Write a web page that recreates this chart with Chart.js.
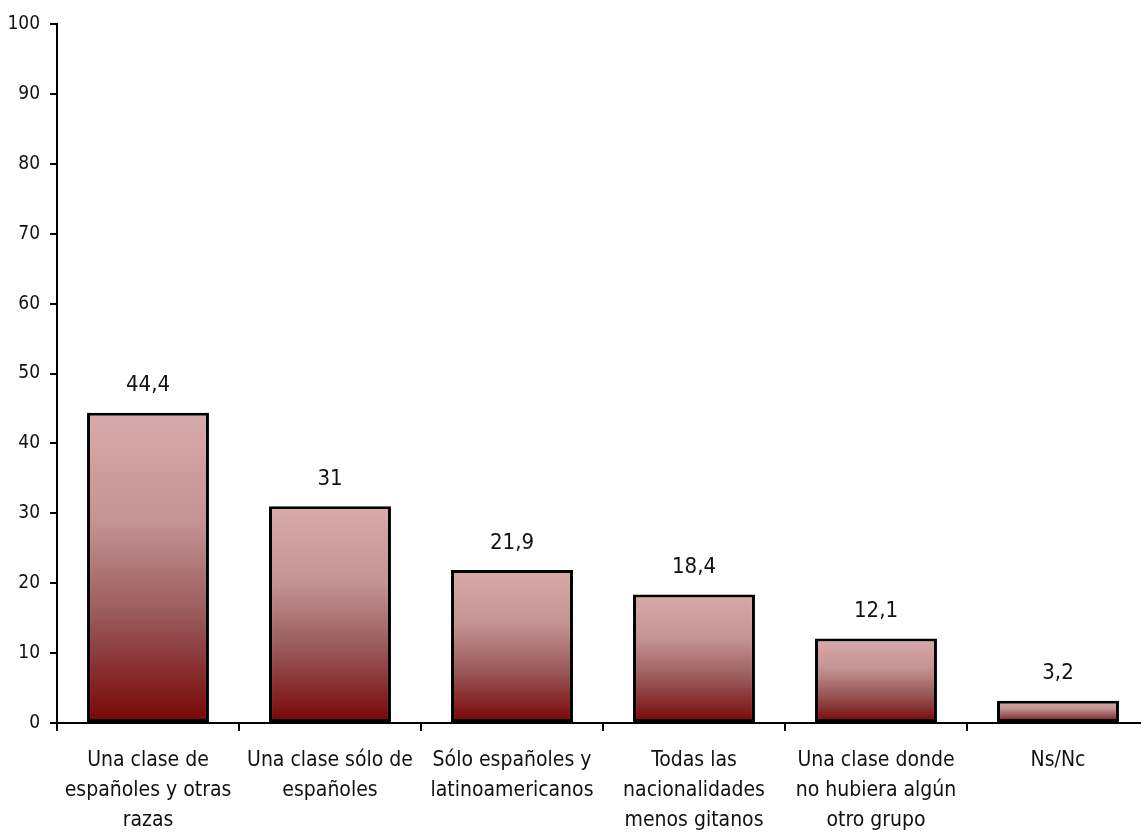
<!DOCTYPE html>
<html>
<head>
<meta charset="utf-8">
<script src="https://cdn.jsdelivr.net/npm/chart.js@4/dist/chart.umd.min.js"></script>
<style>
  html, body { margin: 0; padding: 0; background: #fff; overflow: hidden; }
  #wrap { width: 1149px; height: 839px; }
</style>
</head>
<body>
<div id="wrap"><canvas id="bars" width="1149" height="839"></canvas></div>
<script>
const categories = [
  ['Una clase de', 'españoles y otras', 'razas'],
  ['Una clase sólo de', 'españoles'],
  ['Sólo españoles y', 'latinoamericanos'],
  ['Todas las', 'nacionalidades', 'menos gitanos'],
  ['Una clase donde', 'no hubiera algún', 'otro grupo'],
  ['Ns/Nc']
];
const values = [44.4, 31, 21.9, 18.4, 12.1, 3.2];
const yTicks = [0, 10, 20, 30, 40, 50, 60, 70, 80, 90, 100];

const FONT = "'Liberation Sans Narrow', 'Arial Narrow', 'DejaVu Sans Condensed', sans-serif";

// vertical gradient per bar, light pink at the top to dark red at the base
function barFill(ctx) {
  const chart = ctx.chart;
  const y = chart.scales && chart.scales.y;
  if (!y || ctx.raw === undefined) return '#a56a6a';
  const top = y.getPixelForValue(ctx.raw);
  const bottom = y.getPixelForValue(0);
  if (!isFinite(top) || !isFinite(bottom) || top === bottom) return '#a56a6a';
  const g = chart.ctx.createLinearGradient(0, top, 0, bottom);
  g.addColorStop(0, '#d9aaab');
  g.addColorStop(0.35, '#c49394');
  g.addColorStop(0.65, '#9a5a5b');
  g.addColorStop(1, '#780505');
  return g;
}

const valueLabels = {
  id: 'valueLabels',
  afterDatasetsDraw(chart) {
    const c = chart.ctx;
    const meta = chart.getDatasetMeta(0);
    c.save();
    c.font = '22px ' + FONT;
    c.fillStyle = '#111';
    c.textAlign = 'center';
    c.textBaseline = 'bottom';
    meta.data.forEach((bar, i) => {
      c.fillText(String(values[i]).replace('.', ','), bar.x, bar.y - 16);
    });
    c.restore();
  }
};

new Chart(document.getElementById('bars').getContext('2d'), {
  type: 'bar',
  data: {
    labels: categories,
    datasets: [{
      data: values,
      backgroundColor: barFill,
      borderColor: '#000',
      borderWidth: 3,
      borderSkipped: false,
      categoryPercentage: 1,
      barPercentage: 0.67
    }]
  },
  plugins: [valueLabels],
  options: {
    responsive: false,
    animation: false,
    layout: { padding: { top: 24, right: 0, left: 0, bottom: 0 } },
    plugins: { legend: { display: false }, tooltip: { enabled: false } },
    scales: {
      x: {
        offset: true,
        grid: { offset: true, drawOnChartArea: false, drawTicks: true, tickLength: 8, color: '#000', lineWidth: 2 },
        border: { display: true, color: '#000', width: 2 },
        ticks: { color: '#111', font: { family: FONT, size: 21, lineHeight: 1.42 }, padding: 15, maxRotation: 0, autoSkip: false },
        afterFit(scale) { scale.height = 116; }
      },
      y: {
        min: 0,
        max: 100,
        afterBuildTicks(scale) { scale.ticks = yTicks.map(v => ({ value: v })); },
        grid: { drawOnChartArea: false, drawTicks: true, tickLength: 7, color: '#000', lineWidth: 2 },
        border: { display: true, color: '#000', width: 2 },
        ticks: { color: '#111', font: { family: FONT, size: 19 }, padding: 10 },
        afterFit(scale) { scale.width = 57; }
      }
    }
  }
});
</script>
</body>
</html>
